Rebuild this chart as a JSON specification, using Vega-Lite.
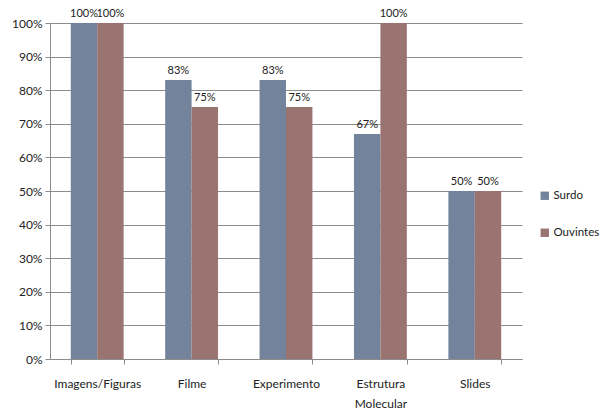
{
  "$schema": "https://vega.github.io/schema/vega-lite/v6.json",
  "width": 472,
  "height": 336,
  "autosize": {"type": "none"},
  "padding": {"left": 50, "top": 23, "right": 79, "bottom": 51},
  "background": "white",
  "config": {
    "view": {"stroke": null},
    "font": "Lato",
    "axis": {"labelFont": "Lato", "labelFontSize": 12, "labelColor": "#222222", "domainColor": "#8c8c8c", "tickColor": "#8c8c8c", "gridColor": "#8c8c8c", "title": null},
    "legend": {"labelFont": "Lato", "labelFontSize": 12, "labelColor": "#222222"}
  },
  "data": {
    "values": [
      {"recurso": "Imagens/Figuras", "grupo": "Surdo", "valor": 1.0},
      {"recurso": "Imagens/Figuras", "grupo": "Ouvintes", "valor": 1.0},
      {"recurso": "Filme", "grupo": "Surdo", "valor": 0.83},
      {"recurso": "Filme", "grupo": "Ouvintes", "valor": 0.75},
      {"recurso": "Experimento", "grupo": "Surdo", "valor": 0.83},
      {"recurso": "Experimento", "grupo": "Ouvintes", "valor": 0.75},
      {"recurso": "Estrutura Molecular", "grupo": "Surdo", "valor": 0.67},
      {"recurso": "Estrutura Molecular", "grupo": "Ouvintes", "valor": 1.0},
      {"recurso": "Slides", "grupo": "Surdo", "valor": 0.5},
      {"recurso": "Slides", "grupo": "Ouvintes", "valor": 0.5}
    ]
  },
  "encoding": {
    "x": {
      "field": "recurso", "type": "nominal", "sort": null,
      "scale": {"paddingInner": 0.44, "paddingOuter": 0.22},
      "axis": {
        "labelAngle": 0, "tickBand": "extent", "tickSize": 5, "labelPadding": 14,
        "labelLineHeight": 20, "labelBaseline": "top",
        "labelExpr": "datum.label == 'Estrutura Molecular' ? ['Estrutura', 'Molecular'] : datum.label"
      }
    },
    "xOffset": {"field": "grupo", "type": "nominal", "sort": ["Surdo", "Ouvintes"]},
    "y": {
      "field": "valor", "type": "quantitative",
      "scale": {"domain": [0, 1]},
      "axis": {"format": ".0%", "values": [0, 0.1, 0.2, 0.3, 0.4, 0.5, 0.6, 0.7, 0.8, 0.9, 1.0], "tickSize": 5, "labelPadding": 3, "grid": true}
    }
  },
  "layer": [
    {
      "mark": {"type": "bar"},
      "encoding": {
        "color": {
          "field": "grupo", "type": "nominal", "sort": ["Surdo", "Ouvintes"],
          "scale": {"domain": ["Surdo", "Ouvintes"], "range": ["#72839b", "#9a7470"]},
          "legend": {"title": null, "orient": "none", "legendX": 489, "legendY": 167, "symbolType": "square", "symbolSize": 70, "symbolStrokeWidth": 0, "rowPadding": 24, "labelOffset": 3, "labelFontSize": 11.5}
        }
      }
    },
    {
      "mark": {"type": "text", "baseline": "bottom", "dy": -4, "fontSize": 11, "color": "#222222"},
      "encoding": {
        "text": {"field": "valor", "type": "quantitative", "format": ".0%"}
      }
    }
  ]
}
